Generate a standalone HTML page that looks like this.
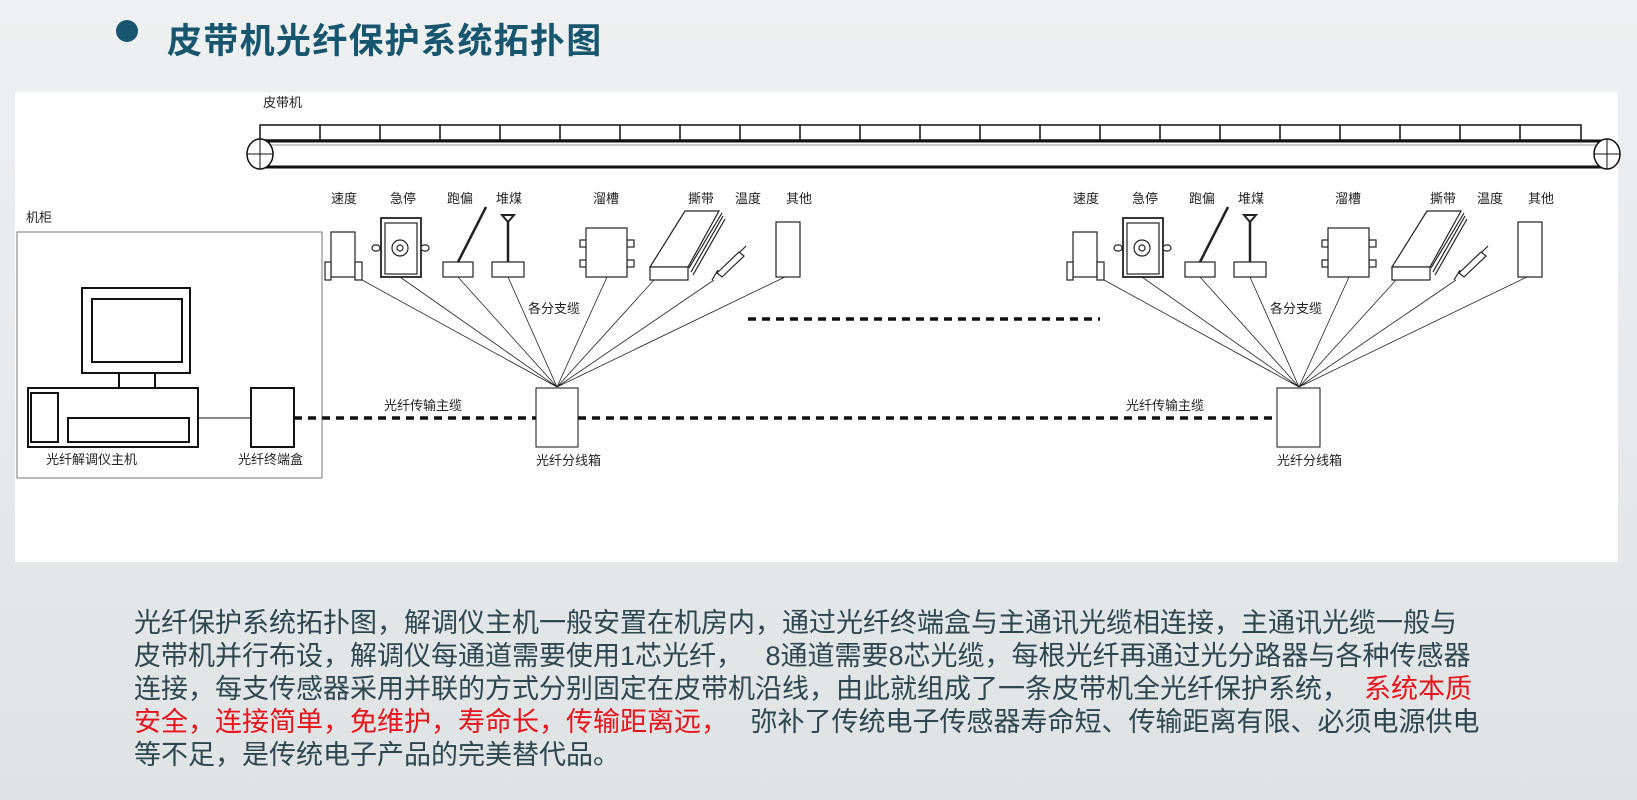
<!DOCTYPE html>
<html><head><meta charset="utf-8"><style>
html,body{margin:0;padding:0;width:1637px;height:800px;overflow:hidden;background:linear-gradient(180deg,#eef0f1 0%,#e6e9ea 60%,#dfe3e4 100%);font-family:"Liberation Sans","Noto Sans CJK SC",sans-serif;}
#t{position:absolute;left:167px;top:13px;font-size:35px;font-weight:bold;color:#17566e;letter-spacing:1.3px;white-space:nowrap}
#dot{position:absolute;left:116px;top:20px;width:22px;height:22px;border-radius:50%;background:#17566e}
#p{position:absolute;left:134px;top:607px;width:1400px;font-size:27px;line-height:33px;color:#2d4650}
.r{color:#e8141b}
svg{position:absolute;left:0;top:0}
svg text{font-family:"Liberation Sans","Noto Sans CJK SC",sans-serif;font-size:13px;fill:#222}
</style></head><body>
<div id="dot"></div><div id="t">皮带机光纤保护系统拓扑图</div>
<svg width="1637" height="800">
<rect x="15" y="92" width="1603" height="470" fill="#fff"/>
<text x="263" y="107">皮带机</text>
<g stroke="#111" fill="#fff" stroke-width="1.5">
<rect x="260" y="125" width="1321" height="15"/>
<path d="M320 125V140M380 125V140M440 125V140M500 125V140M560 125V140M620 125V140M680 125V140M740 125V140M800 125V140M860 125V140M920 125V140M980 125V140M1040 125V140M1100 125V140M1160 125V140M1220 125V140M1280 125V140M1340 125V140M1400 125V140M1460 125V140M1520 125V140"/>
<path d="M260 141H1607M260 167H1607" stroke-width="3"/>
<path d="M262 145H1605" stroke="#999" stroke-width="1"/>
<ellipse cx="260" cy="154" rx="13" ry="15"/><path d="M247 154H273M260 139V169" stroke-width="1"/>
<ellipse cx="1607" cy="154" rx="13" ry="15"/><path d="M1594 154H1620M1607 139V169" stroke-width="1"/>
</g>
<text x="26" y="222">机柜</text>
<rect x="17" y="232" width="305" height="246" fill="none" stroke="#777" stroke-width="1"/>
<g stroke="#111" fill="#fff" stroke-width="2">
<rect x="82" y="288" width="108" height="85"/>
<rect x="92" y="299" width="90" height="63"/>
<rect x="119" y="373" width="36" height="15"/>
<rect x="28" y="388" width="170" height="59"/>
<rect x="31" y="393" width="27" height="49"/>
<rect x="68" y="418" width="121" height="24"/>
<path d="M198 418H251" stroke-width="1"/>
<rect x="251" y="388" width="43" height="59"/>
<rect x="536" y="388" width="42" height="59" stroke-width="1"/>
<rect x="1277" y="388" width="43" height="59" stroke-width="1"/>
</g>
<g stroke="#111" stroke-width="3.5" stroke-dasharray="8,6" fill="none">
<path d="M294 418H536M578 418H1277M748 319H1100"/>
</g>
<text x="46" y="464">光纤解调仪主机</text>
<text x="238" y="464">光纤终端盒</text>
<text x="536" y="465">光纤分线箱</text>
<text x="1277" y="465">光纤分线箱</text>
<text x="384" y="410">光纤传输主缆</text>
<text x="1126" y="410">光纤传输主缆</text>
<g>
<g fill="#fff" stroke="#222" stroke-width="1.2">
<path d="M362 280L557 387M400 277L557 387M458 277L557 387M508 277L557 387M607 277L557 387M654 280L557 387M714 280L557 387M785 277L557 387" stroke-width="0.8" fill="none"/>
<rect x="331" y="232" width="24" height="45"/>
<rect x="325" y="262" width="6" height="18"/><rect x="355" y="262" width="7" height="18"/>
<rect x="381" y="218" width="40" height="59" stroke-width="1.8"/>
<rect x="385" y="223" width="32" height="51"/>
<circle cx="400" cy="248" r="8"/><circle cx="400" cy="248" r="3"/>
<rect x="372" y="245" width="8" height="6" rx="3"/><rect x="421" y="245" width="8" height="6" rx="3"/>
<rect x="443" y="262" width="30" height="15"/>
<path d="M458 262L486 207" stroke-width="2.5"/>
<rect x="492" y="262" width="32" height="15"/>
<path d="M508 262V218" stroke-width="2.5"/>
<path d="M502 215H514L508 222Z" stroke-width="2"/>
<rect x="580" y="240" width="7" height="7"/><rect x="580" y="260" width="7" height="7"/>
<rect x="627" y="240" width="7" height="7"/><rect x="627" y="260" width="7" height="7"/>
<rect x="586" y="228" width="41" height="49"/>
<path d="M689 268L722 213M691 272L723 216M693 275L725 219" fill="none"/>
<path d="M650 267L685 211H719L688 267Z"/>
<rect x="650" y="267" width="38" height="13"/>
<path d="M712 280L718 270M717 273L739 252L744 256L722 277Z M740 252L746 246"/>
<rect x="776" y="222" width="24" height="55"/>
</g>
<g>
<text x="331" y="203">速度</text><text x="390" y="203">急停</text><text x="447" y="203">跑偏</text><text x="496" y="203">堆煤</text>
<text x="593" y="203">溜槽</text><text x="688" y="203">撕带</text><text x="735" y="203">温度</text><text x="786" y="203">其他</text>
<text x="528" y="313">各分支缆</text>
</g>
</g>
<g transform="translate(742,0)">
<g fill="#fff" stroke="#222" stroke-width="1.2">
<path d="M362 280L557 387M400 277L557 387M458 277L557 387M508 277L557 387M607 277L557 387M654 280L557 387M714 280L557 387M785 277L557 387" stroke-width="0.8" fill="none"/>
<rect x="331" y="232" width="24" height="45"/>
<rect x="325" y="262" width="6" height="18"/><rect x="355" y="262" width="7" height="18"/>
<rect x="381" y="218" width="40" height="59" stroke-width="1.8"/>
<rect x="385" y="223" width="32" height="51"/>
<circle cx="400" cy="248" r="8"/><circle cx="400" cy="248" r="3"/>
<rect x="372" y="245" width="8" height="6" rx="3"/><rect x="421" y="245" width="8" height="6" rx="3"/>
<rect x="443" y="262" width="30" height="15"/>
<path d="M458 262L486 207" stroke-width="2.5"/>
<rect x="492" y="262" width="32" height="15"/>
<path d="M508 262V218" stroke-width="2.5"/>
<path d="M502 215H514L508 222Z" stroke-width="2"/>
<rect x="580" y="240" width="7" height="7"/><rect x="580" y="260" width="7" height="7"/>
<rect x="627" y="240" width="7" height="7"/><rect x="627" y="260" width="7" height="7"/>
<rect x="586" y="228" width="41" height="49"/>
<path d="M689 268L722 213M691 272L723 216M693 275L725 219" fill="none"/>
<path d="M650 267L685 211H719L688 267Z"/>
<rect x="650" y="267" width="38" height="13"/>
<path d="M712 280L718 270M717 273L739 252L744 256L722 277Z M740 252L746 246"/>
<rect x="776" y="222" width="24" height="55"/>
</g>
<g>
<text x="331" y="203">速度</text><text x="390" y="203">急停</text><text x="447" y="203">跑偏</text><text x="496" y="203">堆煤</text>
<text x="593" y="203">溜槽</text><text x="688" y="203">撕带</text><text x="735" y="203">温度</text><text x="786" y="203">其他</text>
<text x="528" y="313">各分支缆</text>
</g>
</g>
</svg>
<div id="p">光纤保护系统拓扑图，解调仪主机一般安置在机房内，通过光纤终端盒与主通讯光缆相连接，主通讯光缆一般与<br>皮带机并行布设，解调仪每通道需要使用1芯光纤，&nbsp;&nbsp;&nbsp;8通道需要8芯光缆，每根光纤再通过光分路器与各种传感器<br>连接，每支传感器采用并联的方式分别固定在皮带机沿线，由此就组成了一条皮带机全光纤保护系统，&nbsp;&nbsp;<span class="r">系统本质<br>安全，连接简单，免维护，寿命长，传输距离远，</span>&nbsp;&nbsp;&nbsp;弥补了传统电子传感器寿命短、传输距离有限、必须电源供电<br>等不足，是传统电子产品的完美替代品。</div>
</body></html>
